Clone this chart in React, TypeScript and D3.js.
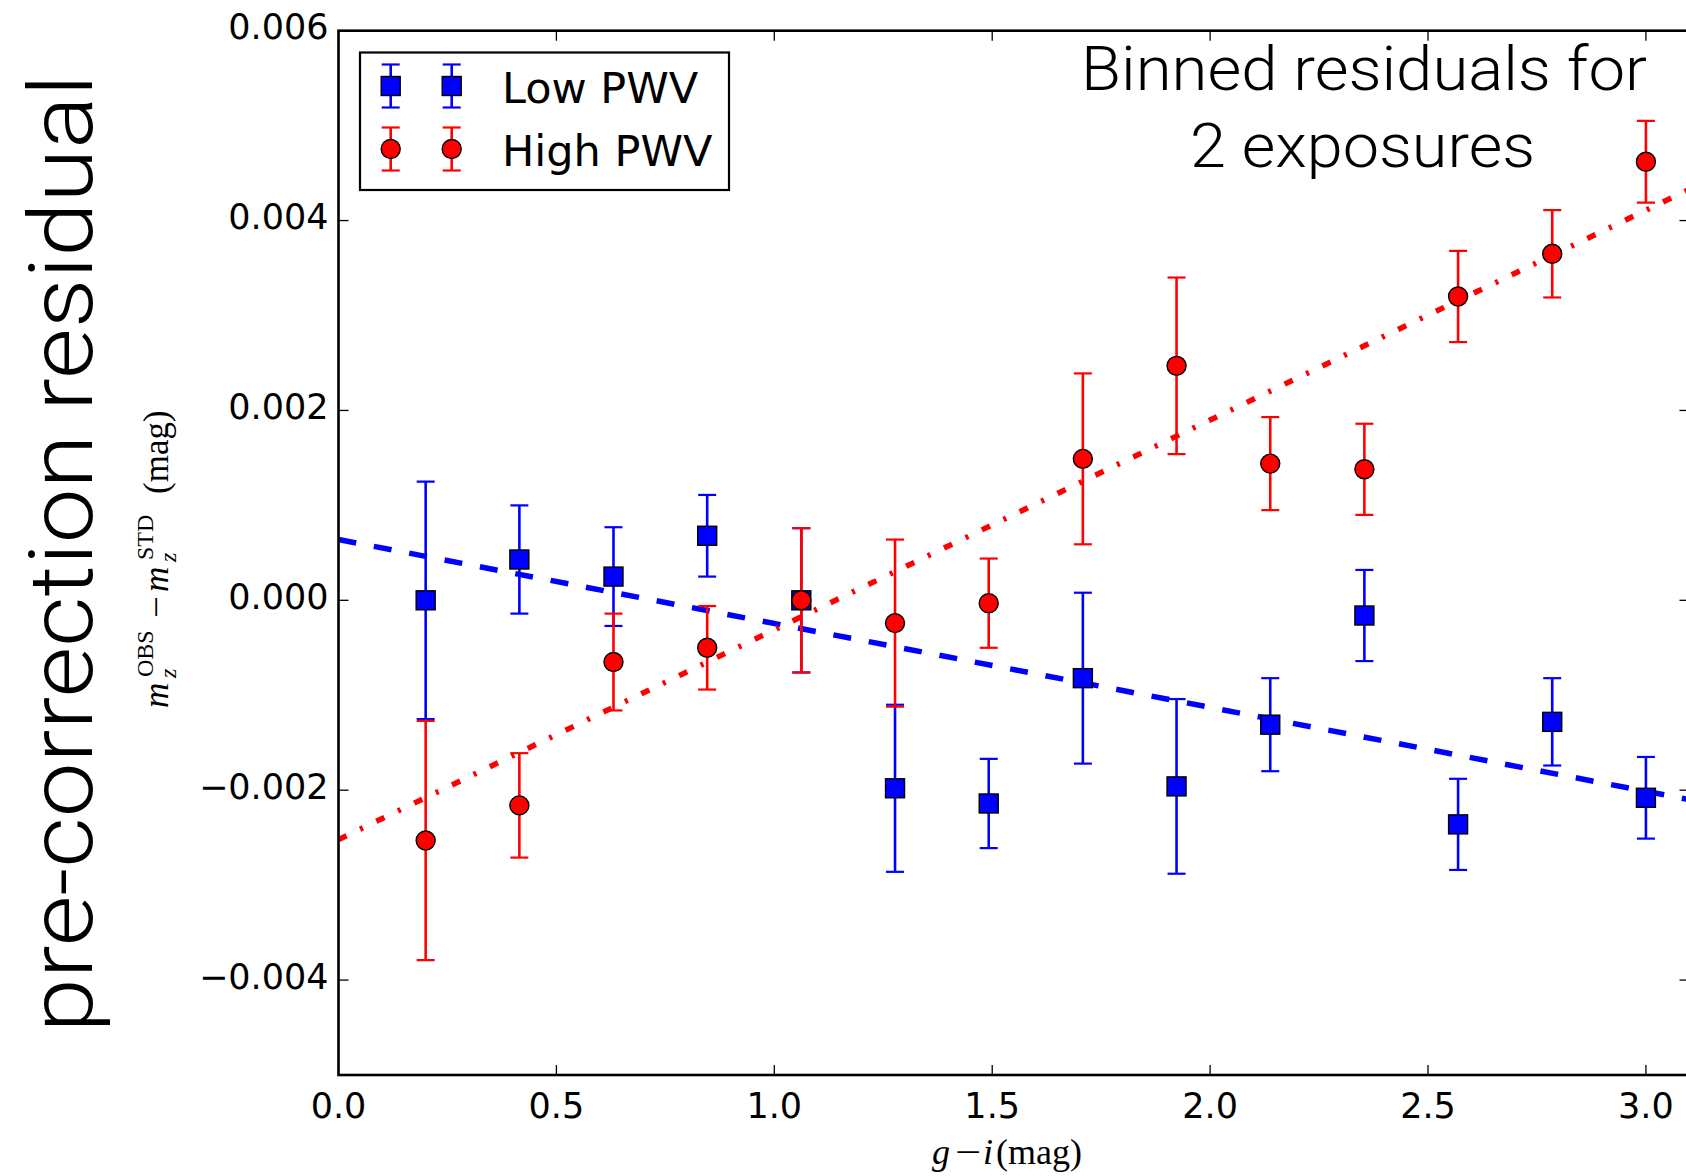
import React from 'react';
import * as d3 from 'd3';

// ---- data ----
const xBins = [0.2, 0.415, 0.631, 0.846, 1.062, 1.277, 1.492, 1.708, 1.923, 2.138, 2.354, 2.569, 2.785, 3.0];
const lowPWV = [0.0, 0.00043, 0.00025, 0.00068, 0.0, -0.00198, -0.00214, -0.00082, -0.00196, -0.00131, -0.00016, -0.00236, -0.00128, -0.00208];
const lowErr = [0.00125, 0.00057, 0.00052, 0.00043, 0.00076, 0.00088, 0.00047, 0.0009, 0.00092, 0.00049, 0.00048, 0.00048, 0.00046, 0.00043];
const highPWV = [-0.00253, -0.00216, -0.00065, -0.0005, 0.0, -0.00024, -0.00003, 0.00149, 0.00247, 0.00144, 0.00138, 0.0032, 0.00365, 0.00462];
const highErr = [0.00126, 0.00055, 0.00051, 0.00044, 0.00076, 0.00088, 0.00047, 0.0009, 0.00093, 0.00049, 0.00048, 0.00048, 0.00046, 0.00043];
const fitX = [0, 3.1];
const lowFit = [0.00064, -0.0021];
const highFit = [-0.00252, 0.00433];
const xTicks = [0, 0.5, 1.0, 1.5, 2.0, 2.5, 3.0];
const xTickLabels = ['0.0', '0.5', '1.0', '1.5', '2.0', '2.5', '3.0'];
const yTicks = [-0.004, -0.002, 0, 0.002, 0.004, 0.006];
const yTickLabels = ['\u22120.004', '\u22120.002', '0.000', '0.002', '0.004', '0.006'];
const legendLabels = ['Low PWV', 'High PWV'];
const titleLines = ['Binned residuals for', '2 exposures'];
const sideTitle = 'pre-correction residual';

const BLUE = '#0000ff';
const RED = '#ff0000';
const SANS = "'DejaVu Sans', sans-serif";
const SERIF = "'Liberation Serif', 'DejaVu Serif', serif";
const LIGHT = "Roboto, 'Open Sans', Lato, sans-serif";

function Marker({ kind, cx, cy }: { kind: 'sq' | 'ci'; cx: number; cy: number }) {
  if (kind === 'sq') {
    return <rect x={cx - 9.5} y={cy - 9.5} width={19} height={19} fill={BLUE} stroke="#000" strokeWidth={1.4} />;
  }
  return <circle cx={cx} cy={cy} r={9.5} fill={RED} stroke="#000" strokeWidth={1.4} />;
}

function ErrBar({ cx, y0, y1, color }: { cx: number; y0: number; y1: number; color: string }) {
  return (
    <g stroke={color} strokeWidth={2.6} fill="none">
      <line x1={cx} x2={cx} y1={y0} y2={y1} />
      <line x1={cx - 9} x2={cx + 9} y1={y0} y2={y0} strokeWidth={2.2} />
      <line x1={cx - 9} x2={cx + 9} y1={y1} y2={y1} strokeWidth={2.2} />
    </g>
  );
}

export default function App() {
  const W = 1686, H = 1176;
  const left = 338.5, right = 1689.5, top = 30.7, bottom = 1075;
  const x = d3.scaleLinear().domain([0, 3.1]).range([left, right]);
  const y = d3.scaleLinear().domain([-0.005, 0.006]).range([bottom, top]);

  const fitLine = (vals: number[]) =>
    d3.line<number>().x((_, i) => x(fitX[i])).y((d) => y(d))(vals) || '';

  const series = [
    { vals: lowPWV, err: lowErr, color: BLUE, kind: 'sq' as const },
    { vals: highPWV, err: highErr, color: RED, kind: 'ci' as const },
  ];

  const tickLen = 10;
  const legX = [390.7, 451.7];
  const legY = [86, 149];

  return (
    <svg width={W} height={H} viewBox={`0 0 ${W} ${H}`}
      style={{ position: 'absolute', left: 0, top: 0, display: 'block', background: '#fff' }}>
      <rect x={0} y={0} width={W} height={H} fill="#fff" />
      <defs>
        <clipPath id="plotClip">
          <rect x={left} y={top} width={right - left} height={bottom - top} />
        </clipPath>
      </defs>

      {/* fit lines */}
      <g clipPath="url(#plotClip)" fill="none">
        <path d={fitLine(lowFit)} stroke={BLUE} strokeWidth={5.5} strokeDasharray="18 18" />
        <path d={fitLine(highFit)} stroke={RED} strokeWidth={5.5} strokeDasharray="9 15 3 15" />
      </g>

      {/* error bars and markers */}
      <g clipPath="url(#plotClip)">
        {series.map((s, si) => (
          <g key={si}>
            {s.vals.map((v, i) => (
              <g key={i}>
                <ErrBar cx={x(xBins[i])} y0={y(v + s.err[i])} y1={y(v - s.err[i])} color={s.color} />
                <Marker kind={s.kind} cx={x(xBins[i])} cy={y(v)} />
              </g>
            ))}
          </g>
        ))}
      </g>

      {/* ticks */}
      <g stroke="#000" strokeWidth={1.3}>
        {xTicks.map((t, i) => (
          <g key={'xt' + i}>
            <line x1={x(t)} x2={x(t)} y1={bottom} y2={bottom - tickLen} />
            <line x1={x(t)} x2={x(t)} y1={top} y2={top + tickLen} />
          </g>
        ))}
        {yTicks.map((t, i) => (
          <g key={'yt' + i}>
            <line x1={left} x2={left + tickLen} y1={y(t)} y2={y(t)} />
            <line x1={right} x2={right - tickLen} y1={y(t)} y2={y(t)} />
          </g>
        ))}
      </g>

      {/* spines */}
      <rect x={left} y={top} width={right - left} height={bottom - top} fill="none" stroke="#000" strokeWidth={2.6} />

      {/* tick labels */}
      <g fontFamily={SANS} fontSize={35} fill="#000">
        {xTicks.map((t, i) => (
          <text key={'xl' + i} x={x(t)} y={1118} textAnchor="middle">{xTickLabels[i]}</text>
        ))}
        {yTicks.map((t, i) => (
          <text key={'yl' + i} x={left - 10} y={y(t) + 8.5} textAnchor="end">{yTickLabels[i]}</text>
        ))}
      </g>

      {/* legend */}
      <g>
        <rect x={360} y={52.5} width={369} height={137.5} fill="#fff" stroke="#000" strokeWidth={2.2} />
        {series.map((s, si) => (
          <g key={'lg' + si}>
            {legX.map((lx, k) => (
              <g key={k}>
                <ErrBar cx={lx} y0={legY[si] - 21.5} y1={legY[si] + 21.5} color={s.color} />
                <Marker kind={s.kind} cx={lx} cy={legY[si]} />
              </g>
            ))}
            <text x={502} y={legY[si] + 16.5} fontFamily={SANS} fontSize={43} fill="#000">{legendLabels[si]}</text>
          </g>
        ))}
      </g>

      {/* in-plot title */}
      <g fontFamily={LIGHT} fontWeight={300} fontSize={62} fill="#000" textAnchor="middle">
        <text x={1364} y={90} textLength={566} lengthAdjust="spacingAndGlyphs">{titleLines[0]}</text>
        <text x={1362.5} y={167} textLength={345} lengthAdjust="spacingAndGlyphs">{titleLines[1]}</text>
      </g>

      {/* big side title */}
      <text transform="translate(92,553.5) rotate(-90)" textAnchor="middle" fontFamily={LIGHT} fontWeight={300}
        fontSize={89} textLength={958} lengthAdjust="spacingAndGlyphs" fill="#000">{sideTitle}</text>

      {/* y axis label (math) */}
      <g transform="translate(168,708) rotate(-90)" fontFamily={SERIF} fill="#000">
        <text x={0} y={0} fontSize={35} fontStyle="italic">m</text>
        <text x={30} y={8} fontSize={24} fontStyle="italic">z</text>
        <text x={31} y={-15} fontSize={24}>OBS</text>
        <text x={90} y={0} fontSize={35} textLength={22} lengthAdjust="spacingAndGlyphs">{'\u2212'}</text>
        <text x={116} y={0} fontSize={35} fontStyle="italic">m</text>
        <text x={146} y={8} fontSize={24} fontStyle="italic">z</text>
        <text x={148} y={-15} fontSize={24}>STD</text>
        <text x={214} y={0} fontSize={35}>(mag)</text>
      </g>

      {/* x axis label (math) */}
      <g fontFamily={SERIF} fill="#000" fontSize={36}>
        <text x={932} y={1164} fontStyle="italic">g</text>
        <text x={955} y={1164} textLength={26} lengthAdjust="spacingAndGlyphs">{'\u2212'}</text>
        <text x={983} y={1164} fontStyle="italic">i</text>
        <text x={996} y={1164}>(mag)</text>
      </g>
    </svg>
  );
}
